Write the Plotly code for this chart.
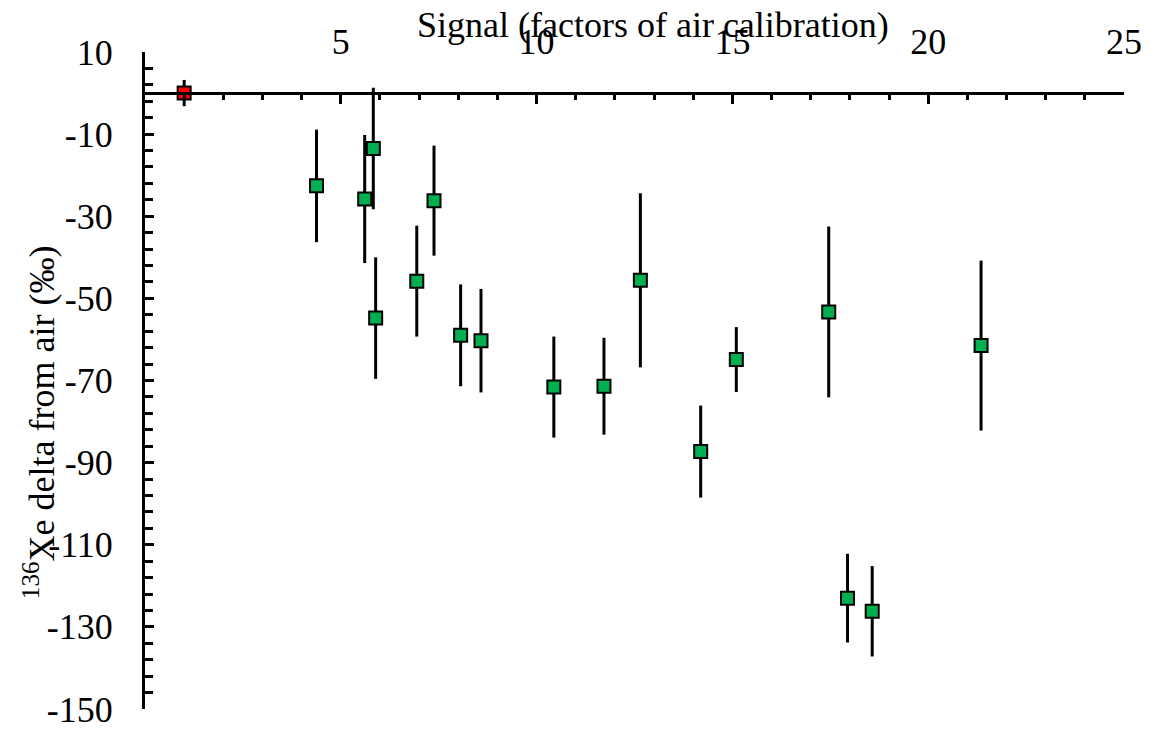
import plotly.graph_objects as go

# Reference (air calibration) point
ref_signal = [1.0]
ref_delta = [0.0]
ref_err = [3.2]

# Sample points
signal = [4.38, 5.61, 5.83, 5.89, 6.94, 7.38, 8.06, 8.58, 10.44, 11.72,
          12.65, 14.19, 15.1, 17.46, 17.94, 18.57, 21.35]
delta = [-22.6, -25.8, -13.5, -54.8, -45.8, -26.2, -59.0, -60.3, -71.6, -71.4,
         -45.6, -87.3, -64.9, -53.3, -123.0, -126.2, -61.5]
err = [13.7, 15.6, 14.8, 14.8, 13.5, 13.4, 12.4, 12.6, 12.3, 11.8,
       21.2, 11.2, 7.9, 20.8, 10.8, 11.0, 20.7]

x_ticks = [5, 10, 15, 20, 25]
y_ticks = [10, -10, -30, -50, -70, -90, -110, -130, -150]

FONT = "serif"
FS = 36

fig = go.Figure()
fig.add_trace(go.Scatter(
    x=signal, y=delta, mode="markers",
    marker=dict(symbol="square", size=13, color="#00B050",
                line=dict(color="black", width=2)),
    error_y=dict(type="data", array=err, visible=True, color="black",
                 thickness=3, width=0),
    showlegend=False, cliponaxis=False,
))
fig.add_trace(go.Scatter(
    x=ref_signal, y=ref_delta, mode="markers",
    marker=dict(symbol="square", size=13, color="#FF0000",
                line=dict(color="black", width=2)),
    error_y=dict(type="data", array=ref_err, visible=True, color="black",
                 thickness=3, width=0),
    showlegend=False, cliponaxis=False,
))

y_min, y_max = -150, 10

fig.update_layout(
    width=1154, height=742,
    margin=dict(l=145, r=22, t=52, b=25, pad=0),
    paper_bgcolor="white", plot_bgcolor="white",
    font=dict(family=FONT, size=FS, color="black"),
    xaxis=dict(
        range=[0, 25], side="top", anchor="free",
        position=(0 - y_min) / (y_max - y_min),
        tickvals=x_ticks, ticktext=[str(v) for v in x_ticks],
        ticks="inside", ticklen=9, tickwidth=3, tickcolor="black",
        minor=dict(dtick=1, tick0=0, ticks="inside", ticklen=5,
                   tickwidth=3, tickcolor="black"),
        showline=True, linecolor="black", linewidth=3,
        showgrid=False, zeroline=False,
        ticklabelstandoff=24,
        tickfont=dict(family=FONT, size=FS, color="black"),
    ),
    yaxis=dict(
        range=[y_min, y_max],
        tickvals=y_ticks, ticktext=[str(v) for v in y_ticks],
        ticks="inside", ticklen=9, tickwidth=3, tickcolor="black",
        minor=dict(dtick=4, tick0=10, ticks="inside", ticklen=8,
                   tickwidth=3, tickcolor="black"),
        showline=True, linecolor="black", linewidth=3,
        showgrid=False, zeroline=False,
        ticklabelstandoff=22,
        tickfont=dict(family=FONT, size=FS, color="black"),
    ),
    annotations=[
        dict(text="Signal (factors of air calibration)", xref="paper", yref="paper",
             x=(657 - 145) / 987, y=(717.3 - 25) / 665.3, xanchor="center",
             yanchor="middle", showarrow=False,
             font=dict(family=FONT, size=FS, color="black")),
        dict(text="<sup>136</sup>Xe delta from air (‰)", xref="paper", yref="paper",
             x=(38 - 145) / 987, y=(717.3 - 427) / 665.3, xanchor="center",
             yanchor="middle", textangle=-90, showarrow=False,
             font=dict(family=FONT, size=FS, color="black")),
    ],
)

fig.write_html("out.html")
